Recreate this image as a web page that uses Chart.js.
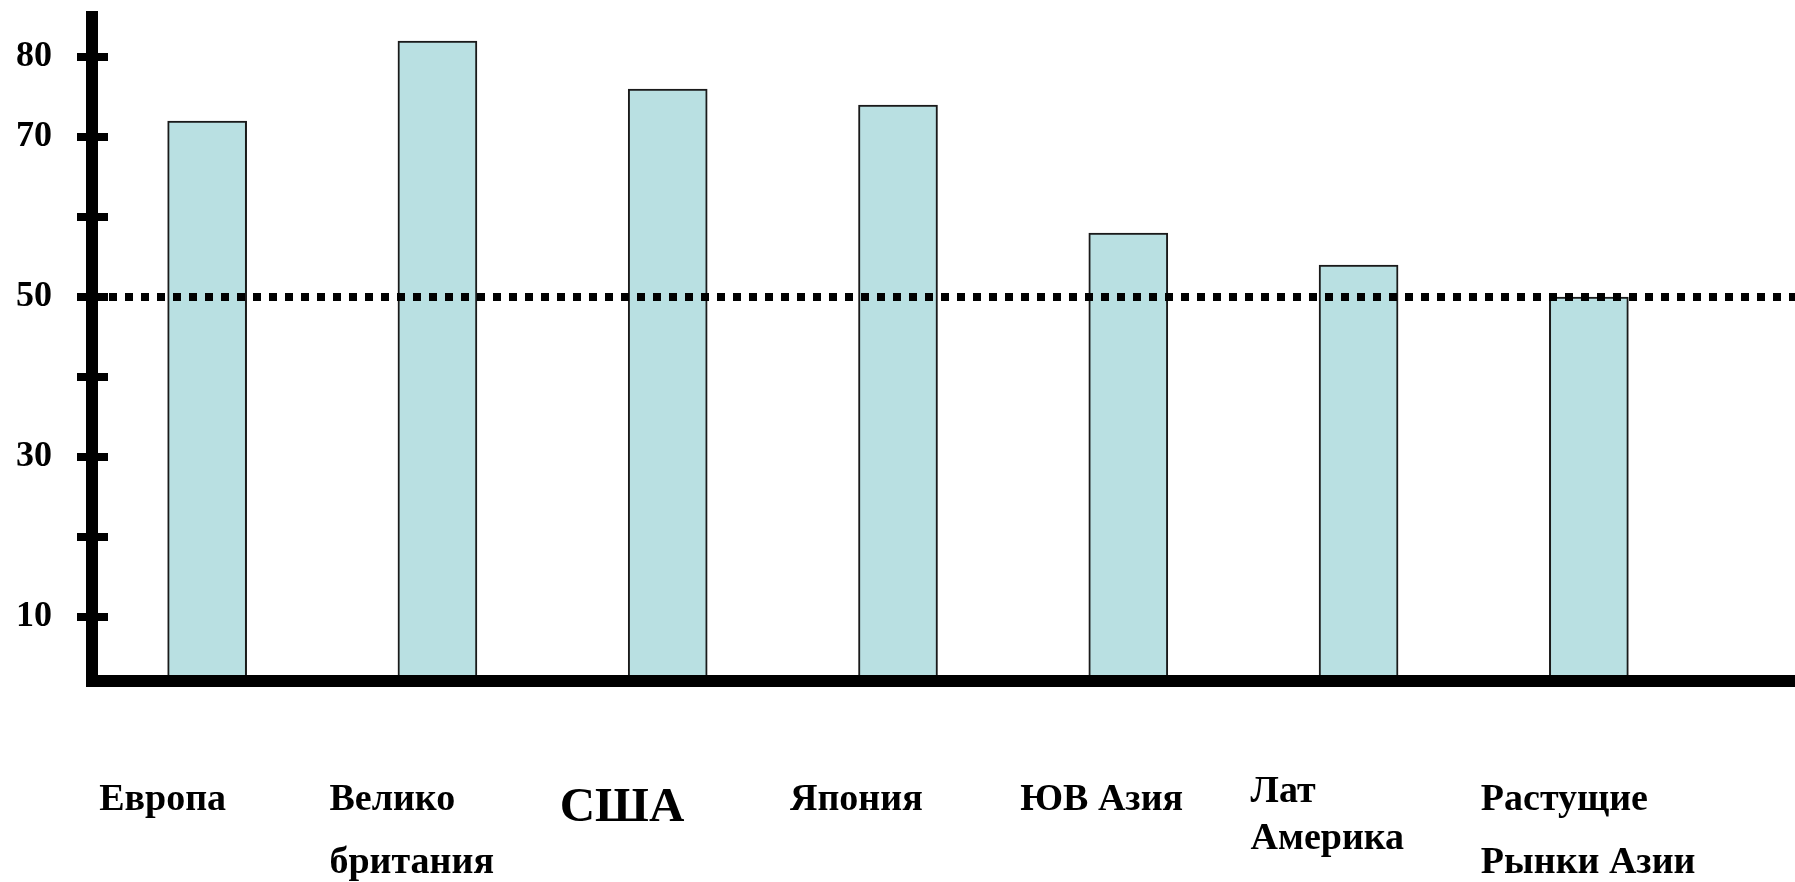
<!DOCTYPE html>
<html>
<head>
<meta charset="utf-8">
<script src="https://cdn.jsdelivr.net/npm/chart.js@4.4.1/dist/chart.umd.min.js"></script>
<style>
  html, body { margin: 0; padding: 0; background: #fff; }
  #wrap { width: 1795px; height: 882px; position: relative; }
</style>
</head>
<body>
<div id="wrap"><canvas id="chart"></canvas></div>
<script>
// data
const categories = ['Европа', ['Велико', 'британия'], 'США', 'Япония', 'ЮВ Азия', ['Лат', 'Америка'], ['Растущие', 'Рынки Азии']];
const values = [72, 82, 76, 74, 58, 54, 50];
const tickValues = [10, 20, 30, 40, 50, 60, 70, 80];
const labeledTicks = [10, 30, 50, 70, 80];
const refLine = 50;

const FONT = "'Liberation Serif', 'Times New Roman', serif";

// tick marks crossing the y axis, dotted line at 50, x axis running to the edge
const decor = {
  id: 'decor',
  afterDatasetsDraw(chart){
    const {ctx, chartArea, scales: {x, y}} = chart;
    ctx.save();
    ctx.strokeStyle = '#000';
    ctx.lineCap = 'butt';
    ctx.lineWidth = 8;
    y.ticks.forEach(t => {
      const py = y.getPixelForValue(t.value);
      ctx.beginPath();
      ctx.moveTo(chartArea.left - 15, py);
      ctx.lineTo(chartArea.left + 16, py);
      ctx.stroke();
    });
    const p50 = y.getPixelForValue(refLine);
    ctx.setLineDash([8, 8]);
    ctx.beginPath();
    ctx.moveTo(chartArea.left + 17, p50);
    ctx.lineTo(chart.width, p50);
    ctx.stroke();
    ctx.setLineDash([]);
    ctx.lineWidth = 12;
    ctx.beginPath();
    ctx.moveTo(chartArea.right - 2, x.top);
    ctx.lineTo(chart.width, x.top);
    ctx.stroke();
    ctx.restore();
  }
};

function labelFont(c){
  const lab = categories[c.index];
  if(lab === 'США') return {family: FONT, weight: 'bold', size: 49, lineHeight: 1.61};
  if(Array.isArray(lab) && lab[0] === 'Лат') return {family: FONT, weight: 'bold', size: 38, lineHeight: 1.24};
  return {family: FONT, weight: 'bold', size: 38, lineHeight: 1.66};
}

function noPad(s){
  s.paddingLeft = 0; s.paddingRight = 0; s.paddingTop = 0; s.paddingBottom = 0;
}

new Chart(document.getElementById('chart'), {
  type: 'bar',
  data: {
    labels: categories,
    datasets: [{
      data: values,
      backgroundColor: '#B9E0E2',
      borderColor: '#1a1a1a',
      borderWidth: 2,
      barThickness: 79
    }]
  },
  options: {
    responsive: true,
    maintainAspectRatio: false,
    animation: false,
    layout: { padding: { top: 17, right: 91, bottom: 0, left: 0 } },
    plugins: {
      legend: { display: false },
      tooltip: { enabled: false }
    },
    scales: {
      x: {
        grid: { display: false, drawTicks: false },
        border: { display: true, color: '#000', width: 12, z: 1 },
        ticks: {
          color: '#000',
          font: labelFont,
          align: 'start',
          labelOffset: -108,
          padding: 88,
          autoSkip: false,
          maxRotation: 0,
          minRotation: 0
        },
        afterFit: s => { s.height = 201; noPad(s); }
      },
      y: {
        min: 2,
        max: 85,
        grid: { display: true, drawOnChartArea: false, drawTicks: false },
        border: { display: true, color: '#000', width: 12 },
        afterBuildTicks: s => { s.ticks = tickValues.map(v => ({value: v})); },
        ticks: {
          color: '#000',
          padding: 40,
          font: { family: FONT, weight: 'bold', size: 36 },
          callback: v => labeledTicks.includes(v) ? String(v) : ''
        },
        afterFit: s => { s.width = 92; noPad(s); }
      }
    }
  },
  plugins: [decor]
});
</script>
</body>
</html>
